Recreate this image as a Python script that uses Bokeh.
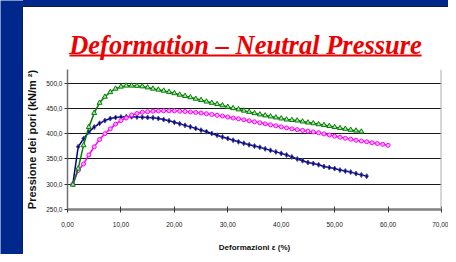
from bokeh.plotting import figure
from bokeh.models import FixedTicker, Span, Range1d, Div
from bokeh.layouts import row, column
from bokeh.core.properties import value
from bokeh.embed import file_html
from bokeh.resources import INLINE

# ---- data ----
title_text = "Deformation \u2013 Neutral Pressure"
x_label = "Deformazioni \u03b5 (%)"
y_label = "Pressione dei pori (kN/m \u00b2)"

x_ticks = [0, 10, 20, 30, 40, 50, 60, 70]
x_tick_labels = ["0,00", "10,00", "20,00", "30,00", "40,00", "50,00", "60,00", "70,00"]
y_ticks = [250, 300, 350, 400, 450, 500]
y_tick_labels = ["250,0", "300,0", "350,0", "400,0", "450,0", "500,0"]

blue_x = [1, 2, 3, 4, 5, 6, 7, 8, 9, 10, 11, 12, 13, 14, 15, 16, 17, 18, 19, 20,
          21, 22, 23, 24, 25, 26, 27, 28, 29, 30, 31, 32, 33, 34, 35, 36, 37, 38, 39, 40,
          41, 42, 43, 44, 45, 46, 47, 48, 49, 50, 51, 52, 53, 54, 55, 56]
blue_y = [300, 374, 390, 403.5, 413, 420.5, 426, 430, 432, 433, 433.5, 433.5, 433, 432.5, 432, 431.5,
          430, 428, 425.5, 422.5, 419.5, 416.5, 413.5, 410.5, 407, 404, 400.5, 397, 393.5, 390.5,
          387, 384, 381, 378, 375.5, 373, 370, 367, 364, 361, 358, 354, 350, 346.5, 343, 341,
          338.5, 335, 333, 331, 328, 326, 324, 321, 318.5, 316]

green_x = [1, 2, 3, 4, 5, 6, 7, 8, 9, 10, 11, 12, 13, 14, 15, 16, 17, 18, 19, 20,
           21, 22, 23, 24, 25, 26, 27, 28, 29, 30, 31, 32, 33, 34, 35, 36, 37, 38, 39, 40,
           41, 42, 43, 44, 45, 46, 47, 48, 49, 50, 51, 52, 53, 54, 55]
green_y = [299, 331, 377, 413, 441, 461, 473, 482, 489, 493, 495, 495, 494.5, 493.5, 491.5, 489,
           487, 485, 482.5, 480, 477, 474.5, 472, 469, 466.5, 463.5, 461, 458.5, 456, 453,
           450.5, 448, 445.5, 443, 440.5, 438, 436, 434, 432, 430, 428, 427, 426, 424, 422,
           420.5, 418.5, 417, 415, 413, 411, 409.5, 407.5, 406, 404]

magenta_x = [1, 2, 3, 4, 5, 6, 7, 8, 9, 10, 11, 12, 13, 14, 15, 16, 17, 18, 19, 20,
             21, 22, 23, 24, 25, 26, 27, 28, 29, 30, 31, 32, 33, 34, 35, 36, 37, 38, 39, 40,
             41, 42, 43, 44, 45, 46, 47, 48, 49, 50, 51, 52, 53, 54, 55, 56, 57, 58, 59, 60]
magenta_y = [300, 327, 340, 358, 374, 388.5, 400, 409.5, 419, 426, 431, 437, 440, 442.5, 443.5,
             444.5, 445, 445.3, 445.3, 445.3, 444.5, 444, 443, 442, 441, 439.5, 438, 436.5, 435,
             433, 431, 429.5, 427.5, 425.5, 423.5, 421.5, 419.5, 417.5, 415.5, 413.5, 411.5,
             409.5, 408, 406.5, 405, 403.5, 402, 399.5, 397.5, 395, 393, 391, 389, 387, 385.5,
             384, 382, 380.5, 379, 377]

BLUE = "#000080"
GREEN = "#008000"
MAGENTA = "#FF00FF"
PANEL = "#00288C"
EDGE = "#1a1a2a"
RED = "#EE0000"

# left blue strip
strip = figure(width=23, height=254, x_range=Range1d(0, 23), y_range=Range1d(-254, 0),
               output_backend="svg", toolbar_location=None,
               x_axis_location=None, y_axis_location=None, min_border=0)
strip.grid.visible = False
strip.outline_line_color = None
strip.background_fill_color = PANEL
strip.border_fill_color = PANEL
strip.quad(left=[22], right=[23], top=[-6], bottom=[-254], fill_color=EDGE, line_color=None)

# top blue band
band = Div(text="", width=425, height=7, margin=0,
           styles={"background": "linear-gradient(to bottom, #00288C 0px, #00288C 6px, #1a1a2a 6px, #1a1a2a 7px)"})

# header with title (frame aligned with the chart frame)
header = figure(width=425, height=54, x_range=Range1d(66, 441), y_range=Range1d(-61, -7),
                output_backend="svg", toolbar_location=None,
                x_axis_location=None, y_axis_location=None,
                min_border_left=43, min_border_right=7, min_border_top=0, min_border_bottom=0)
header.grid.visible = False
header.outline_line_color = None
header.background_fill_color = "white"
header.border_fill_color = "white"
header.text(x=[244.5], y=[-44], text=[title_text], text_align="center",
            text_baseline="alphabetic", text_font=value("Liberation Serif"),
            text_font_style="bold italic", text_font_size=value("26.5px"), text_color=RED)
header.line(x=[68, 421], y=[-55, -55], line_color=RED, line_width=2)

# main chart
p = figure(width=425, height=193, x_range=(0, 70), y_range=(250, 527),
           output_backend="svg", toolbar_location=None,
           min_border_left=43, min_border_right=7, min_border_top=8, min_border_bottom=43)
p.background_fill_color = "white"
p.border_fill_color = "white"
p.outline_line_color = None

p.xaxis.ticker = FixedTicker(ticks=x_ticks)
p.xaxis.major_label_overrides = dict(zip(x_ticks, x_tick_labels))
p.yaxis.ticker = FixedTicker(ticks=y_ticks)
p.yaxis.major_label_overrides = dict(zip(y_ticks, y_tick_labels))
p.xaxis.minor_tick_line_color = None
p.yaxis.minor_tick_line_color = None

p.xaxis.axis_line_color = "#808080"
p.xaxis.axis_line_width = 2.5
p.xaxis.major_tick_line_color = "#333333"
p.xaxis.major_tick_in = 3
p.xaxis.major_tick_out = 3
p.xaxis.major_label_standoff = 9
p.xaxis.major_label_text_font = "Liberation Sans"
p.xaxis.major_label_text_font_size = "6.5px"
p.xaxis.major_label_text_color = "#222222"
p.xaxis.axis_label = x_label
p.xaxis.axis_label_text_font = "Liberation Sans"
p.xaxis.axis_label_text_font_size = "8px"
p.xaxis.axis_label_text_font_style = "bold"
p.xaxis.axis_label_standoff = 13
p.xaxis.axis_label_text_color = "#111111"

p.yaxis.axis_line_color = "#707070"
p.yaxis.axis_line_width = 1.5
p.yaxis.major_tick_line_color = "#333333"
p.yaxis.major_tick_in = 0
p.yaxis.major_tick_out = 3
p.yaxis.major_label_standoff = 2
p.yaxis.major_label_text_font = "Liberation Sans"
p.yaxis.major_label_text_font_size = "6.5px"
p.yaxis.major_label_text_color = "#222222"
p.yaxis.axis_label = y_label
p.yaxis.axis_label_text_font = "Liberation Sans"
p.yaxis.axis_label_text_font_size = "11px"
p.yaxis.axis_label_text_font_style = "bold"
p.yaxis.axis_label_standoff = 5
p.yaxis.axis_label_text_color = "#111111"

p.xgrid.grid_line_color = None
p.ygrid.grid_line_color = "#1a1a1a"
p.ygrid.grid_line_width = 1

p.add_layout(Span(location=70, dimension="height", line_color="#B0B0B0", line_width=2))

p.line(blue_x, blue_y, line_color=BLUE, line_width=1.5)
p.scatter(blue_x, blue_y, marker="diamond", size=5, fill_color=BLUE, line_color="#4a4aa0")
p.line(magenta_x, magenta_y, line_color=MAGENTA, line_width=1.5)
p.scatter(magenta_x, magenta_y, marker="circle", size=4, fill_color="#ffb0ff", line_color=MAGENTA)
p.line(green_x, green_y, line_color=GREEN, line_width=1.5)
p.scatter(green_x, green_y, marker="triangle", size=5, fill_color="#b0e0b0", line_color=GREEN)

layout = row(strip, column(band, header, p, spacing=0), spacing=0)

open("out.html", "w").write(file_html(layout, INLINE))
